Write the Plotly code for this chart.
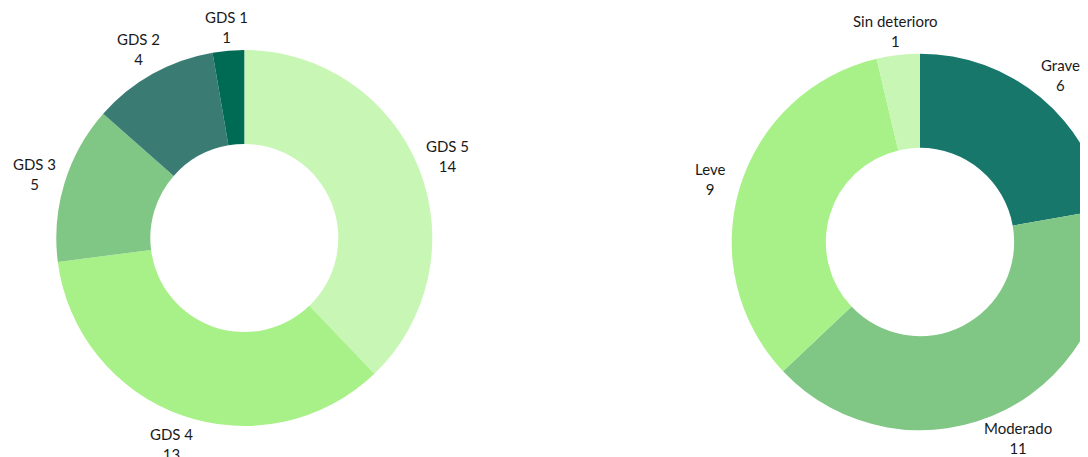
import math
import plotly.graph_objects as go

# escala GDS
gds_labels = ["GDS 5", "GDS 4", "GDS 3", "GDS 2", "GDS 1"]
gds_values = [14, 13, 5, 4, 1]
gds_colors = ["#c8f6b4", "#a8f088", "#80c684", "#3a7c74", "#006b55"]

# grado de deterioro
det_labels = ["Grave", "Moderado", "Leve", "Sin deterioro"]
det_values = [6, 11, 9, 1]
det_colors = ["#17776b", "#80c684", "#a8f088", "#c8f6b4"]

# figure is bigger than the window, the page crops it (body has an 8px margin)
W, H = 1200, 480
OFF = 8
LABEL_GAP = 31  # labels sit this far outside the ring, centred on the mid angle


def dom(cx, cy, r):
    cx, cy = cx - OFF, cy - OFF
    return dict(x=[(cx - r) / W, (cx + r) / W],
                y=[(H - cy - r) / H, (H - cy + r) / H])


def slice_labels(labels, values, d):
    cx = (d["x"][0] + d["x"][1]) / 2 * W
    cy = (1 - (d["y"][0] + d["y"][1]) / 2) * H
    r0 = (d["x"][1] - d["x"][0]) * W / 2
    total = sum(values)
    acc = 0
    out = []
    for lab, v in zip(labels, values):
        a = math.radians((acc + v / 2) / total * 360)
        acc += v
        # labels right above the ring sit a bit closer
        r = r0 + LABEL_GAP - 7 * max(0.0, math.cos(a)) ** 8
        out.append(dict(
            x=(cx + r * math.sin(a)) / W, y=1 - (cy - r * math.cos(a)) / H,
            xref="paper", yref="paper", text=f"{lab}<br>{v}",
            showarrow=False, xanchor="center", yanchor="middle",
        ))
    return out


d1 = dom(244.3, 238, 188)
d2 = dom(920, 242, 188.3)

fig = go.Figure()

fig.add_trace(go.Pie(
    labels=gds_labels, values=gds_values,
    marker=dict(colors=gds_colors, line=dict(width=0)),
    hole=0.5, sort=False, direction="clockwise", rotation=0,
    textinfo="none", automargin=False,
    domain=d1,
))

fig.add_trace(go.Pie(
    labels=det_labels, values=det_values,
    marker=dict(colors=det_colors, line=dict(width=0)),
    hole=0.5, sort=False, direction="clockwise", rotation=0,
    textinfo="none", automargin=False,
    domain=d2,
))

fig.update_layout(
    width=W, height=H,
    margin=dict(l=0, r=0, t=0, b=0, autoexpand=False),
    showlegend=False,
    paper_bgcolor="white",
    font=dict(family="Lato", size=15, color="#1a1a1a"),
    annotations=slice_labels(gds_labels, gds_values, d1)
    + slice_labels(det_labels, det_values, d2),
)

fig.write_html("out.html")
